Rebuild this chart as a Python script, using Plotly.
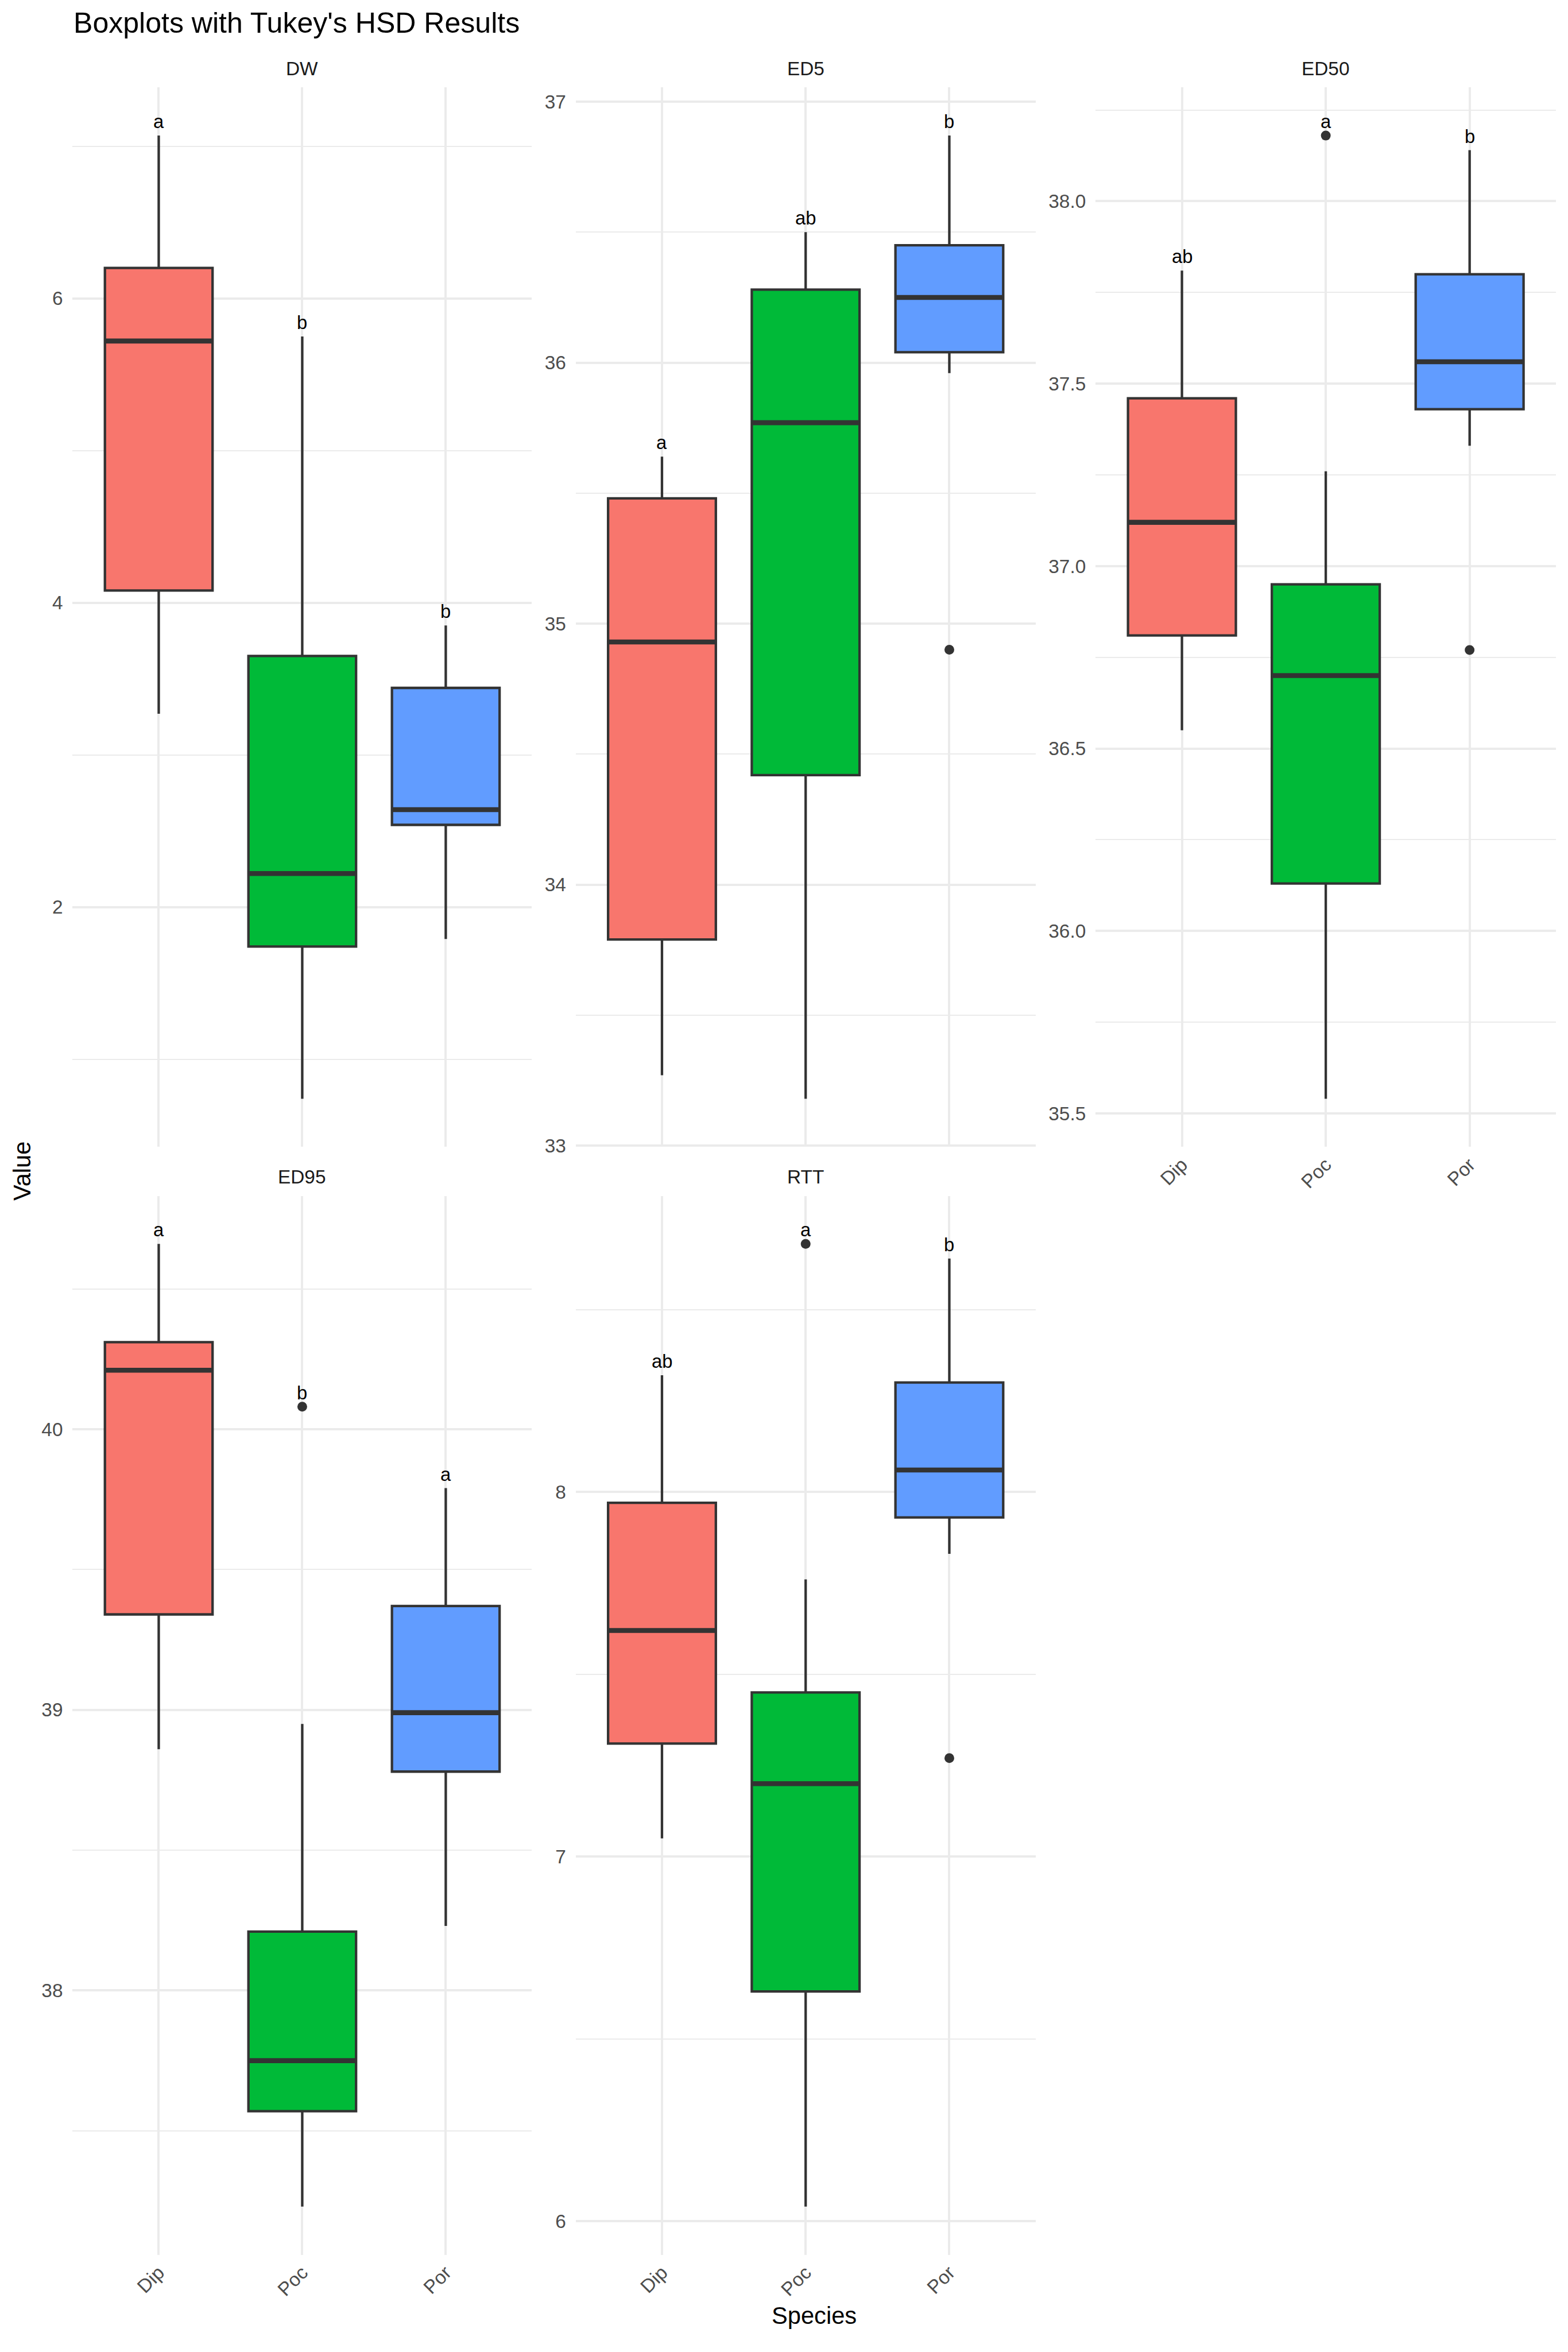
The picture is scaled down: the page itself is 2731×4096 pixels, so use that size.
import plotly.graph_objects as go

# ---------------- data ----------------
species = ["Dip", "Poc", "Por"]
species_colors = ["#F8766D", "#00BA38", "#619CFF"]
panel_names = ["DW", "ED5", "ED50", "ED95", "RTT"]

dw_lower = [3.27, 0.74, 1.79]
dw_q1 = [4.08, 1.74, 2.54]
dw_median = [5.72, 2.22, 2.64]
dw_q3 = [6.20, 3.65, 3.44]
dw_upper = [7.07, 5.75, 3.85]
dw_outliers = [[], [], []]
dw_letters = ["a", "b", "b"]

ed5_lower = [33.27, 33.18, 35.96]
ed5_q1 = [33.79, 34.42, 36.04]
ed5_median = [34.93, 35.77, 36.25]
ed5_q3 = [35.48, 36.28, 36.45]
ed5_upper = [35.64, 36.50, 36.87]
ed5_outliers = [[], [], [34.90]]
ed5_letters = ["a", "ab", "b"]

ed50_lower = [36.55, 35.54, 37.33]
ed50_q1 = [36.81, 36.13, 37.43]
ed50_median = [37.12, 36.70, 37.56]
ed50_q3 = [37.46, 36.95, 37.80]
ed50_upper = [37.81, 37.26, 38.14]
ed50_outliers = [[], [38.18], [36.77]]
ed50_letters = ["ab", "a", "b"]

ed95_lower = [38.86, 37.23, 38.23]
ed95_q1 = [39.34, 37.57, 38.78]
ed95_median = [40.21, 37.75, 38.99]
ed95_q3 = [40.31, 38.21, 39.37]
ed95_upper = [40.66, 38.95, 39.79]
ed95_outliers = [[], [40.08], []]
ed95_letters = ["a", "b", "a"]

rtt_lower = [7.05, 6.04, 7.83]
rtt_q1 = [7.31, 6.63, 7.93]
rtt_median = [7.62, 7.20, 8.06]
rtt_q3 = [7.97, 7.45, 8.30]
rtt_upper = [8.32, 7.76, 8.64]
rtt_outliers = [[], [8.68], [7.27]]
rtt_letters = ["ab", "a", "b"]

panels = {
    "DW": (dw_lower, dw_q1, dw_median, dw_q3, dw_upper, dw_outliers, dw_letters),
    "ED5": (ed5_lower, ed5_q1, ed5_median, ed5_q3, ed5_upper, ed5_outliers, ed5_letters),
    "ED50": (ed50_lower, ed50_q1, ed50_median, ed50_q3, ed50_upper, ed50_outliers, ed50_letters),
    "ED95": (ed95_lower, ed95_q1, ed95_median, ed95_q3, ed95_upper, ed95_outliers, ed95_letters),
    "RTT": (rtt_lower, rtt_q1, rtt_median, rtt_q3, rtt_upper, rtt_outliers, rtt_letters),
}

# y-axis tick settings per panel: (major step, minor step, format)
tick_cfg = {
    "DW": (2, 1, ""),
    "ED5": (1, 0.5, ""),
    "ED50": (0.5, 0.25, ".1f"),
    "ED95": (1, 0.5, ""),
    "RTT": (1, 0.5, ""),
}

# ---------------- layout geometry ----------------
S = 0.91
W, H = 2731, 4096
FONT = "Liberation Sans, Arial, Helvetica, sans-serif"
GRID = "#EBEBEB"
EDGE = "#333333"

col_x = [(139, 1018), (1102, 1982), (2097, 2978)]   # reference px
row_y = [(168, 2204), (2298, 4333)]
grid_pos = {"DW": (0, 0), "ED5": (1, 0), "ED50": (2, 0), "ED95": (0, 1), "RTT": (1, 1)}
show_xlabels = {"DW": False, "ED5": False, "ED50": True, "ED95": True, "RTT": True}

tick_size = 36.7 * S
strip_size = 36.7 * S
label_size = 36.0 * S
title_size = 55 * S
axis_title_size = 45.8 * S

box_w = 0.75
positions = [1, 2, 3]

fig = go.Figure()
annotations = []
layout_axes = {}

for i, name in enumerate(panel_names):
    lower, q1, med, q3, upper, outl, letters = panels[name]
    xr = "x" if i == 0 else f"x{i+1}"
    yr = "y" if i == 0 else f"y{i+1}"
    xa = "xaxis" if i == 0 else f"xaxis{i+1}"
    ya = "yaxis" if i == 0 else f"yaxis{i+1}"
    c, r = grid_pos[name]
    x0, x1 = col_x[c]
    y0, y1 = row_y[r]
    dom_x = [x0 * S / W, x1 * S / W]
    dom_y = [1 - y1 * S / H, 1 - y0 * S / H]

    for j, sp in enumerate(species):
        fig.add_trace(go.Box(
            x=[positions[j]], q1=[q1[j]], median=[med[j]], q3=[q3[j]],
            lowerfence=[lower[j]], upperfence=[upper[j]],
            width=box_w, fillcolor=species_colors[j],
            line=dict(color=EDGE, width=4.3), whiskerwidth=0,
            boxpoints=False, xaxis=xr, yaxis=yr, showlegend=False,
            hoverinfo="skip",
        ))
        # thicker median line (ggplot fatten)
        fig.add_trace(go.Scatter(
            x=[positions[j] - box_w / 2, positions[j] + box_w / 2], y=[med[j], med[j]],
            mode="lines", line=dict(color=EDGE, width=8.6),
            xaxis=xr, yaxis=yr, showlegend=False, hoverinfo="skip",
        ))
        if outl[j]:
            fig.add_trace(go.Scatter(
                x=[positions[j]] * len(outl[j]), y=outl[j], mode="markers",
                marker=dict(color=EDGE, size=17, line=dict(width=0)),
                xaxis=xr, yaxis=yr, showlegend=False, hoverinfo="skip",
            ))
        top = max([upper[j]] + outl[j])
        annotations.append(dict(
            x=positions[j], y=top, xref=xr, yref=yr, text=letters[j],
            showarrow=False, xanchor="center", yanchor="bottom", yshift=4,
            font=dict(family=FONT, size=label_size, color="#000000"),
        ))

    # y range: data range expanded by 5%
    allv = lower + upper + [v for o in outl for v in o]
    lo, hi = min(allv), max(allv)
    pad = (hi - lo) * 0.05
    step, mstep, fmt = tick_cfg[name]

    layout_axes[xa] = dict(
        domain=dom_x, anchor=yr, range=[0.4, 3.6],
        tickmode="array", tickvals=positions, ticktext=species,
        showticklabels=show_xlabels[name], tickangle=-45,
        tickfont=dict(family=FONT, size=tick_size, color="#4D4D4D"),
        showgrid=True, gridcolor=GRID, gridwidth=4.4,
        zeroline=False, showline=False, ticks="", ticklabelstandoff=4,
        fixedrange=True,
    )
    layout_axes[ya] = dict(
        domain=dom_y, anchor=xr, range=[lo - pad, hi + pad],
        tick0=0, dtick=step, tickformat=fmt,
        tickfont=dict(family=FONT, size=tick_size, color="#4D4D4D"),
        showgrid=True, gridcolor=GRID, gridwidth=4.4,
        minor=dict(tick0=0, dtick=mstep, showgrid=True, gridcolor=GRID, gridwidth=2.2, ticks=""),
        zeroline=False, showline=False, ticks="", ticklabelstandoff=16,
        fixedrange=True,
    )

    # strip title
    base = y0 * S - 20.5
    annotations.append(dict(
        x=(dom_x[0] + dom_x[1]) / 2, y=1 - (base + 0.212 * strip_size + 1) / H,
        xref="paper", yref="paper", text=name, showarrow=False,
        xanchor="center", yanchor="bottom",
        font=dict(family=FONT, size=strip_size, color="#1A1A1A"),
    ))

# plot title
title_base = 64 * S
annotations.append(dict(
    x=139 * S / W, y=1 - (title_base + 0.212 * title_size + 1) / H,
    xref="paper", yref="paper", text="Boxplots with Tukey's HSD Results",
    showarrow=False, xanchor="left", yanchor="bottom",
    font=dict(family=FONT, size=title_size, color="#000000"),
))
# axis titles
species_base = 4467 * S
annotations.append(dict(
    x=(139 + 2978) / 2 * S / W, y=1 - (species_base + 0.212 * axis_title_size + 1) / H,
    xref="paper", yref="paper", text="Species", showarrow=False,
    xanchor="center", yanchor="bottom",
    font=dict(family=FONT, size=axis_title_size, color="#000000"),
))
annotations.append(dict(
    x=43 * S / W, y=1 - 2251 * S / H,
    xref="paper", yref="paper", text="Value", showarrow=False, textangle=-90,
    xanchor="center", yanchor="middle",
    font=dict(family=FONT, size=axis_title_size, color="#000000"),
))

fig.update_layout(
    width=W, height=H, autosize=False,
    margin=dict(l=0, r=0, t=0, b=0, pad=0),
    paper_bgcolor="white", plot_bgcolor="white",
    boxmode="overlay", showlegend=False,
    annotations=annotations,
    font=dict(family=FONT),
    **layout_axes,
)

fig.write_html("out.html")
